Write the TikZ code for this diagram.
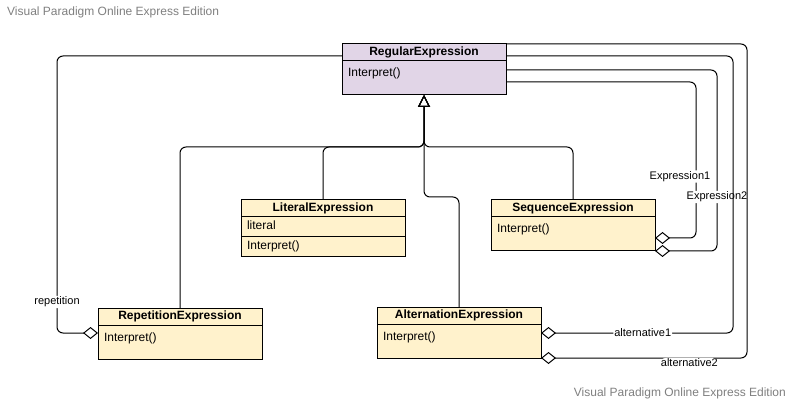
\documentclass[tikz,border=0pt]{standalone}
\usepackage{fontspec}
\setmainfont{Liberation Sans}
\usepackage{xcolor}
\usetikzlibrary{arrows.meta,positioning}

\definecolor{classpurple}{HTML}{E1D5E7}
\definecolor{classyellow}{HTML}{FFF2CC}
\definecolor{markgray}{HTML}{808080}

\begin{document}
\begin{tikzpicture}[x=1pt, y=-1pt,
    head/.style={draw, line width=1pt, outer sep=0pt, minimum width=164pt, minimum height=17pt, inner sep=0pt, font=\fontsize{12}{14}\selectfont\bfseries},
    member/.style={draw, line width=1pt, outer sep=0pt, text width=152pt, inner xsep=6pt, align=left, text height=9pt, text depth=3pt, minimum height=20pt, font=\fontsize{12}{14}\selectfont},
    tall/.style={text height=12pt, text depth=14pt, inner ysep=4pt},
    link/.style={line width=1pt, rounded corners=6pt},
    inherit/.style={link, -{Triangle[open, length=12pt, width=12pt]}},
    part/.style={link, {Diamond[open, length=15pt, width=12pt]}-},
    lbl/.style={fill=white, inner sep=1pt, font=\fontsize{11}{13}\selectfont},
    watermark/.style={text=markgray, inner sep=0pt, font=\fontsize{12}{14}\selectfont}]
    \fill[white] (0,0) rectangle (792,403);
    \useasboundingbox (0,0) rectangle (792,403);

    \node[watermark, anchor=west] (wmtop) at (7,12) {Visual Paradigm Online Express Edition};
    \node[watermark, anchor=east] (wmbottom) at (786,393) {Visual Paradigm Online Express Edition};

    \node[head, fill=classpurple, anchor=north west] (reg) at (342,44) {RegularExpression};
    \node[member, tall, fill=classpurple, below=0pt of reg] (regops) {Interpret()};

    \node[head, fill=classyellow, anchor=north west] (lit) at (241,200) {LiteralExpression};
    \node[member, fill=classyellow, below=0pt of lit] (litattr) {literal};
    \node[member, fill=classyellow, below=0pt of litattr] (litops) {Interpret()};

    \node[head, fill=classyellow, anchor=north west] (seq) at (491,200) {SequenceExpression};
    \node[member, tall, fill=classyellow, below=0pt of seq] (seqops) {Interpret()};

    \node[head, fill=classyellow, anchor=north west] (rep) at (98,308) {RepetitionExpression};
    \node[member, tall, fill=classyellow, below=0pt of rep] (repops) {Interpret()};

    \node[head, fill=classyellow, anchor=north west] (alt) at (377,307) {AlternationExpression};
    \node[member, tall, fill=classyellow, below=0pt of alt] (altops) {Interpret()};

    \coordinate (hub) at (424,147);
    \coordinate (bend) at (424,197);

    \draw[inherit] (rep.north) |- (hub) -- (regops.south);
    \draw[inherit] (lit.north) |- (hub) -- (regops.south);
    \draw[inherit] (seq.north) |- (hub) -- (regops.south);
    \draw[inherit] (alt.north) |- (bend) -- (regops.south);

    \draw[part] ([yshift=-8pt]repops.north west) -- ++(-41,0) |- node[lbl, pos=0.056] {repetition} ([yshift=-12pt]reg.north west);
    \draw[part] ([yshift=-21pt]seqops.north east) -- ++(41,0) |- node[lbl, pos=0.197, xshift=-16pt] {Expression1} ([yshift=-38pt]reg.north east);
    \draw[part] (seqops.south east) -- ++(62,0) |- node[lbl, pos=0.149] {Expression2} ([yshift=-26pt]reg.north east);
    \draw[part] ([yshift=-9pt]altops.north east) -- node[lbl, pos=0.53] {alternative1} ++(192,0) |- ([yshift=-12pt]reg.north east);
    \draw[part] (altops.south east) -- node[lbl, pos=0.72, yshift=-5pt] {alternative2} ++(206,0) |- (reg.north east);
\end{tikzpicture}
\end{document}
